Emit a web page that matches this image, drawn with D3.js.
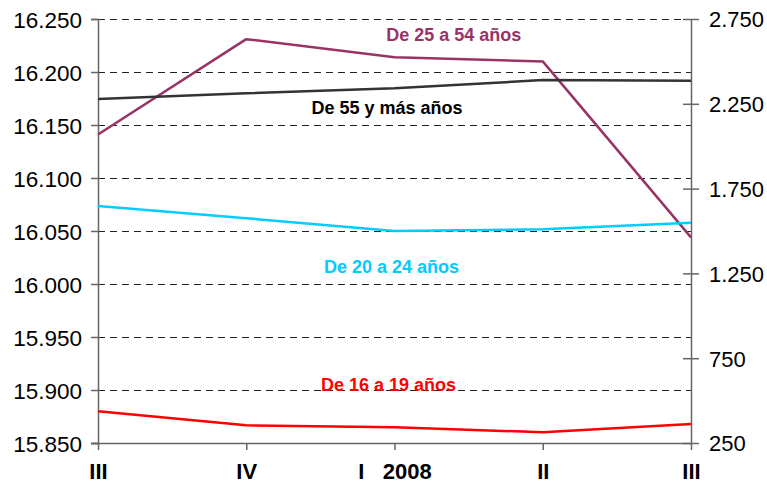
<!DOCTYPE html>
<html>
<head>
<meta charset="utf-8">
<script src="https://cdn.jsdelivr.net/npm/d3@7"></script>
<style>
  body { margin: 0; background: #fff; }
  svg { display: block; font-family: "Liberation Sans", Arial, sans-serif; }
</style>
</head>
<body>
<div id="chart"></div>
<script>
// periods (quarters), 2007 III .. 2008 III
const periods = ['2007-III', '2007-IV', '2008-I', '2008-II', '2008-III']
const quarterLabels = ['III', 'IV', 'I', 'II', 'III']
const yearLabel = '2008'

// thousands of people employed
const age25to54 = [16141, 16231, 16214, 16210, 16044]   // left axis
const age55plus = [2278, 2312, 2341, 2390, 2386]         // right axis
const age20to24 = [1647, 1575, 1500, 1510, 1549]         // right axis
const age16to19 = [437, 354, 343, 313, 362]              // right axis

const leftTicks = [15850, 15900, 15950, 16000, 16050, 16100, 16150, 16200, 16250]
const rightTicks = [250, 750, 1250, 1750, 2250, 2750]

const width = 767, height = 491
const margin = {top: 19, right: 76, bottom: 48, left: 98}

const svg = d3.select('#chart').append('svg')
    .attr('width', width)
    .attr('height', height)

const x = d3.scalePoint()
    .domain(periods)
    .range([margin.left, width - margin.right])

const yLeft = d3.scaleLinear()
    .domain([15850, 16250])
    .range([height - margin.bottom, margin.top])

const yRight = d3.scaleLinear()
    .domain([250, 2750])
    .range([height - margin.bottom, margin.top])

// dashed grid lines (half pixel so they stay crisp)
svg.append('g')
    .selectAll('line')
    .data(leftTicks.slice(1))
    .enter()
    .append('line')
    .attr('x1', margin.left)
    .attr('x2', width - margin.right)
    .attr('y1', d => Math.round(yLeft(d)) + 0.5)
    .attr('y2', d => Math.round(yLeft(d)) + 0.5)
    .attr('stroke', '#222')
    .attr('stroke-width', 1)
    .attr('stroke-dasharray', '7 5')

const fmt = d => d3.format(',')(d).replace(/,/g, '.')

// left axis
const gLeft = svg.append('g')
    .attr('transform', `translate(${margin.left},0)`)
    .call(d3.axisLeft(yLeft).tickValues(leftTicks).tickFormat(fmt).tickSize(7).tickPadding(9))
gLeft.select('.domain').attr('stroke', '#666').attr('stroke-width', 1.5)
gLeft.selectAll('.tick line').attr('stroke', '#666').attr('stroke-width', 1.5)
gLeft.selectAll('.tick text').attr('font-size', 22.5).attr('fill', '#000').attr('dy', '0.36em')

// right axis, ticks cross the line
const gRight = svg.append('g')
    .attr('transform', `translate(${width - margin.right},0)`)
    .call(d3.axisRight(yRight).tickValues(rightTicks).tickFormat(fmt).tickSize(8).tickSizeOuter(0).tickPadding(10))
gRight.select('.domain').attr('stroke', '#666').attr('stroke-width', 1.5)
gRight.selectAll('.tick line').attr('x1', -8).attr('stroke', '#666').attr('stroke-width', 1.5)
gRight.selectAll('.tick text').attr('font-size', 22).attr('fill', '#000').attr('dy', '0.36em')

// bottom axis
const gBottom = svg.append('g')
    .attr('transform', `translate(0,${height - margin.bottom})`)
    .call(d3.axisBottom(x).tickSize(7).tickSizeOuter(0).tickFormat((d, i) => quarterLabels[i]).tickPadding(13))
gBottom.select('.domain')
    .attr('d', `M${margin.left - 7},0.5H${width - margin.right}`)
    .attr('stroke', '#666').attr('stroke-width', 1.5)
gBottom.selectAll('.tick line').attr('stroke', '#666').attr('stroke-width', 1.5)
gBottom.selectAll('.tick text')
    .attr('font-size', 22)
    .attr('font-weight', 'bold')
    .attr('fill', '#000')
    .style('white-space', 'pre')
    .text((d, i) => i === 2 ? quarterLabels[i] + '   ' + yearLabel : quarterLabels[i])

const series = [
    {name: 'De 25 a 54 años', values: age25to54, y: yLeft, color: '#993366', label: {at: 2.4, v: 16229}},
    {name: 'De 55 y más años', values: age55plus, y: yRight, color: '#333333', text: '#000', label: {at: 1.95, v: 2190}},
    {name: 'De 20 a 24 años', values: age20to24, y: yRight, color: '#00CCFF', label: {at: 1.98, v: 1250}},
    {name: 'De 16 a 19 años', values: age16to19, y: yRight, color: '#FF0000', label: {at: 1.96, v: 555}},
]

const step = x.step()

series.forEach(s => {
    const line = d3.line()
        .x((d, i) => x(periods[i]))
        .y(d => s.y(d))

    svg.append('path')
        .datum(s.values)
        .attr('d', line)
        .attr('fill', 'none')
        .attr('stroke', s.color)
        .attr('stroke-width', 2.5)
        .attr('stroke-linejoin', 'round')

    svg.append('text')
        .attr('x', margin.left + s.label.at * step)
        .attr('y', s.y(s.label.v))
        .attr('text-anchor', 'middle')
        .attr('font-size', 18)
        .attr('font-weight', 'bold')
        .attr('fill', s.text || s.color)
        .text(s.name)
})
</script>
</body>
</html>
